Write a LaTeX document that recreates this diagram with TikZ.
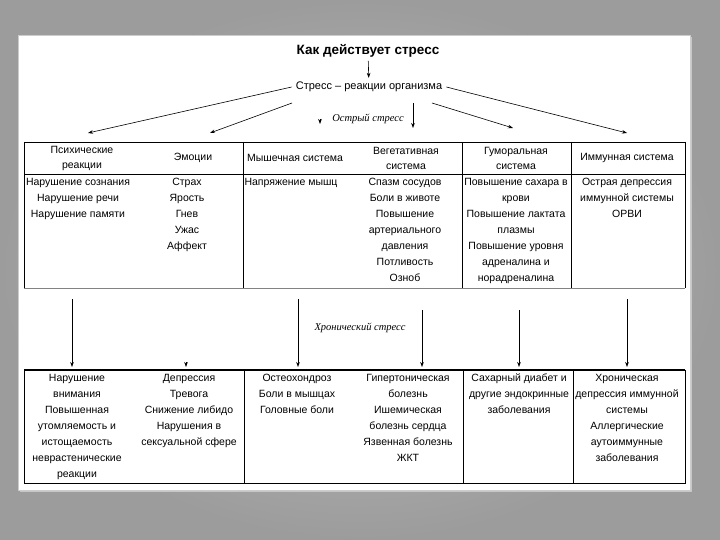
\documentclass[tikz,border=0pt]{standalone}
\usepackage{fontspec}
\setmainfont{Liberation Sans}
\newfontfamily\stressfont{Liberation Serif}
\usetikzlibrary{arrows.meta}
\definecolor{bgIn}{RGB}{192,192,192}
\definecolor{bgOut}{RGB}{156,156,156}
\definecolor{ruleG}{RGB}{130,130,130}

\begin{document}
\begin{tikzpicture}[x=1pt, y=-1pt, >={Stealth[length=5pt,width=3.6pt]},
  cell/.style={font=\fontsize{10.5}{16}\selectfont, align=center, inner sep=0pt, anchor=north},
  head/.style={font=\fontsize{10.5}{15}\selectfont, align=center, inner sep=0pt},
  stressnote/.style={font=\stressfont\itshape\fontsize{10.5}{12}\selectfont, inner sep=1pt},
  arr/.style={->, line width=0.6pt},
  rule/.style={line width=0.8pt}]
  \useasboundingbox (0,0) rectangle (720,540);
  % backdrop and slide
  \shade[inner color=bgIn, outer color=bgOut] (0,0) rectangle (720,540);
  \fill[black!22] (20,37) rectangle (692,492);
  \fill[white, draw=black!20] (18,35) rectangle (690,490);

  % heading
  \node[font=\bfseries\fontsize{13.5}{16}\selectfont] (title) at (368,51) {Как действует стресс};
  \node[font=\fontsize{11}{13}\selectfont, inner sep=4pt] (react) at (369,87) {Стресс – реакции организма};
  \draw[arr] (title) -- (react);
  \node[stressnote] (acute) at (368,119) {Острый стресс};

  % acute arrows
  \coordinate (emoTail) at (292,103);
  \coordinate (musTail) at (320,119);
  \coordinate (vegTail) at (413,103);
  \coordinate (humTail) at (432,103);
  \coordinate (psyTip) at (88,133);
  \coordinate (emoTip) at (210,133);
  \coordinate (musTip) at (320,124);
  \coordinate (vegTip) at (413,128);
  \coordinate (humTip) at (513,128);
  \coordinate (immTip) at (627,133);
  \draw[arr] (react.west) -- (psyTip);
  \draw[arr] (emoTail) -- (emoTip);
  \draw[arr] (musTail) -- (musTip);
  \draw[arr] (vegTail) -- (vegTip);
  \draw[arr] (humTail) -- (humTip);
  \draw[arr] (react.east) -- (immTip);

  % acute table
  \draw[rule] (24,142) -- (685,142);
  \draw[rule] (24,174) -- (685,174);
  \draw[rule, ruleG] (24,288) -- (685,288);
  \foreach \x in {24,243,462,571,685}
    \draw[rule] (\x,142) -- (\x,288);

  \node[head] (hPsy) at (82,158) {Психические\\реакции};
  \node[head] (hEmo) at (193,158) {Эмоции};
  \node[head] (hMus) at (295,158) {Мышечная система};
  \node[head] (hVeg) at (406,158) {Вегетативная\\система};
  \node[head] (hHum) at (516,158) {Гуморальная\\система};
  \node[head] (hImm) at (627,158) {Иммунная система};

  \node[cell] (bPsy) at (78,178) {Нарушение сознания\\Нарушение речи\\Нарушение памяти};
  \node[cell] (bEmo) at (187,178) {Страх\\Ярость\\Гнев\\Ужас\\Аффект};
  \node[cell] (bMus) at (291,178) {Напряжение мышц};
  \node[cell] (bVeg) at (405,178) {Спазм сосудов\\Боли в животе\\Повышение\\артериального\\давления\\Потливость\\Озноб};
  \node[cell] (bHum) at (516,178) {Повышение сахара в\\крови\\Повышение лактата\\плазмы\\Повышение уровня\\адреналина и\\норадреналина};
  \node[cell] (bImm) at (627,178) {Острая депрессия\\иммунной системы\\ОРВИ};

  % chronic arrows
  \node[stressnote] (chronic) at (360,328) {Хронический стресс};
  \coordinate (cPsyTail) at (72,299);
  \coordinate (cEmoTail) at (186,362);
  \coordinate (cMusTail) at (298,299);
  \coordinate (cVegTail) at (422,310);
  \coordinate (cHumTail) at (519,310);
  \coordinate (cImmTail) at (627,299);
  \foreach \n/\x in {cPsy/72,cEmo/186,cMus/298,cVeg/422,cHum/519,cImm/627}
    \coordinate (\n Tip) at (\x,367);
  \foreach \n in {cPsy,cEmo,cMus,cVeg,cHum,cImm}
    \draw[arr] (\n Tail) -- (\n Tip);

  % chronic table
  \draw[line width=1.2pt] (24,370) -- (685,370);
  \draw[rule] (24,370) -- (24,483) -- (685,483) -- (685,370);
  \foreach \x in {244,463,573}
    \draw[rule] (\x,370) -- (\x,483);

  \node[cell] (cPsy) at (77,374) {Нарушение\\внимания\\Повышенная\\утомляемость и\\истощаемость\\неврастенические\\реакции};
  \node[cell] (cEmo) at (189,374) {Депрессия\\Тревога\\Снижение либидо\\Нарушения в\\сексуальной сфере};
  \node[cell] (cMus) at (297,374) {Остеохондроз\\Боли в мышцах\\Головные боли};
  \node[cell] (cVeg) at (408,374) {Гипертоническая\\болезнь\\Ишемическая\\болезнь сердца\\Язвенная болезнь\\ЖКТ};
  \node[cell] (cHum) at (519,374) {Сахарный диабет и\\другие эндокринные\\заболевания};
  \node[cell] (cImm) at (627,374) {Хроническая\\депрессия иммунной\\системы\\Аллергические\\аутоиммунные\\заболевания};
\end{tikzpicture}
\end{document}
